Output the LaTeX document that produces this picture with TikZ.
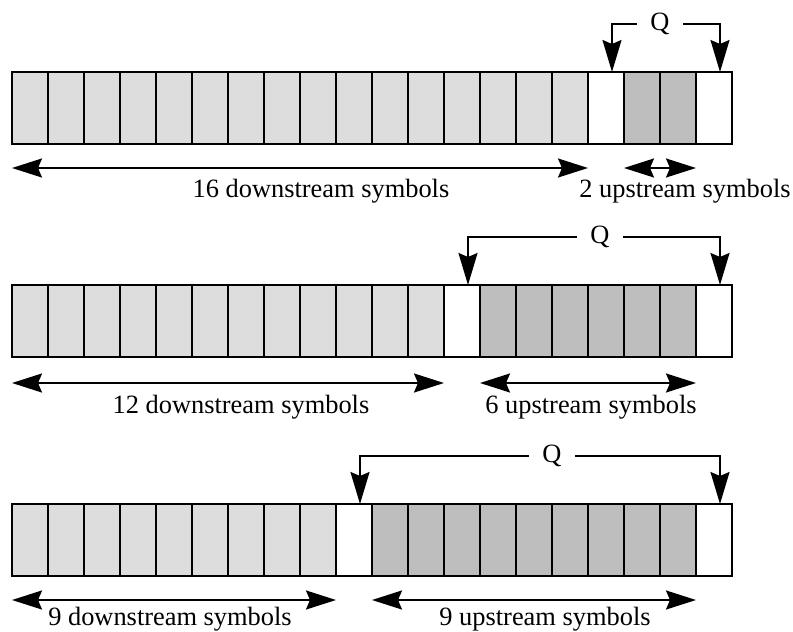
\documentclass[tikz,border=0pt]{standalone}
\usepackage{fontspec}
\setmainfont{Liberation Serif}
\usetikzlibrary{arrows.meta,calc}
\definecolor{lightcell}{RGB}{221,221,221}
\definecolor{darkcell}{RGB}{190,190,190}
\begin{document}
\begin{tikzpicture}[x=0.5pt,y=-0.5pt,
 cell/.style={draw=black, line width=1pt, minimum width=18pt, minimum height=36pt, inner sep=0pt, outer sep=0pt},
 dim/.style={line width=1pt, {Stealth[length=15pt,width=9.5pt,inset=2pt]}-{Stealth[length=15pt,width=9.5pt,inset=2pt]}},
 qarrow/.style={line width=1pt, -{Stealth[length=16pt,width=9.5pt,inset=2pt]}},
 lbl/.style={font=\fontsize{13.2pt}{15pt}\selectfont, anchor=base, inner sep=0pt},
 qlbl/.style={font=\fontsize{13.2pt}{15pt}\selectfont, minimum width=23pt, inner sep=0pt}]
\useasboundingbox (0,0) rectangle (793,632);
\foreach \r/\n/\y in {1/16/108, 2/12/321, 3/9/540}{
  \pgfmathtruncatemacro\w{\n+1}
  \foreach \i in {1,...,20}{
    \ifnum\i>\n \def\fc{darkcell}\else \def\fc{lightcell}\fi
    \ifnum\i=\w \def\fc{white}\fi
    \ifnum\i=20 \def\fc{white}\fi
    \node[cell, fill=\fc] (r\r c\i) at ({36*\i-6},\y) {};
  }
}
% row 1
\node[qlbl] (q1) at (660,24) {Q};
\coordinate (t1a) at ($(r1c17.north west)+(12pt,0)$);
\coordinate (t1b) at ($(r1c20.north west)+(12pt,0)$);
\draw[qarrow] (q1.west) -| (t1a);
\draw[qarrow] (q1.east) -| (t1b);
\draw[dim] ([yshift=-12pt]r1c1.south west) -- ([yshift=-12pt]r1c16.south east);
\draw[dim] ([yshift=-12pt]r1c18.south west) -- ([yshift=-12pt]r1c19.south east);
\node[lbl] (l1a) at (321,197) {16 downstream symbols};
\node[lbl] (l1b) at (685,197) {2 upstream symbols};
% row 2
\node[qlbl] (q2) at (600,237) {Q};
\coordinate (t2a) at ($(r2c13.north west)+(12pt,0)$);
\coordinate (t2b) at ($(r2c20.north west)+(12pt,0)$);
\draw[qarrow] (q2.west) -| (t2a);
\draw[qarrow] (q2.east) -| (t2b);
\draw[dim] ([yshift=-13pt]r2c1.south west) -- ([yshift=-13pt]r2c12.south east);
\draw[dim] ([yshift=-13pt]r2c14.south west) -- ([yshift=-13pt]r2c19.south east);
\node[lbl] (l2a) at (241,413) {12 downstream symbols};
\node[lbl] (l2b) at (591,413) {6 upstream symbols};
% row 3
\node[qlbl] (q3) at (552,456) {Q};
\coordinate (t3a) at ($(r3c10.north west)+(12pt,0)$);
\coordinate (t3b) at ($(r3c20.north west)+(12pt,0)$);
\draw[qarrow] (q3.west) -| (t3a);
\draw[qarrow] (q3.east) -| (t3b);
\draw[dim] ([yshift=-12pt]r3c1.south west) -- ([yshift=-12pt]r3c9.south east);
\draw[dim] ([yshift=-12pt]r3c11.south west) -- ([yshift=-12pt]r3c19.south east);
\node[lbl] (l3a) at (170,625) {9 downstream symbols};
\node[lbl] (l3b) at (545,625) {9 upstream symbols};
\end{tikzpicture}
\end{document}
